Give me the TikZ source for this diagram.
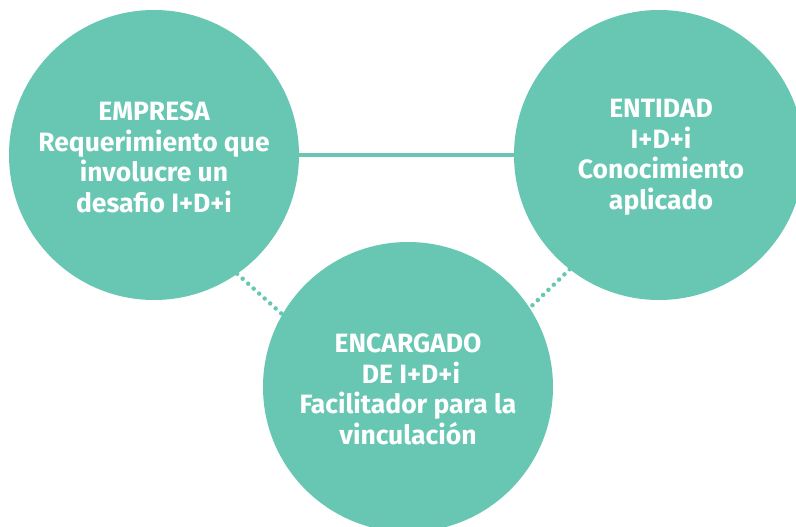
\documentclass[tikz,border=0pt]{standalone}
\usepackage{fontspec}
\setmainfont{Fira Sans}
\definecolor{tealc}{RGB}{104,199,179}
\begin{document}
\begin{tikzpicture}[x=1pt,y=-1pt,
  circ/.style={circle,fill=tealc,draw=none,minimum size=290pt,inner sep=0pt,outer sep=0pt},
  txt/.style={text=white,align=center,inner sep=0pt,font=\fontsize{26.5}{30.5}\selectfont\bfseries},
  solidlink/.style={draw=tealc,line width=4pt},
  dotlink/.style={draw=tealc,line width=4.5pt,line cap=round,dash pattern=on 0pt off 7.4pt}]
\useasboundingbox (0,0) rectangle (796,527);
\clip (0,0) rectangle (796,527);
\node[circ] (emp) at (154,155) {};
\node[circ] (ent) at (659,155) {};
\node[circ] (enc) at (408,387) {};
\draw[solidlink] (emp.east) -- (ent.west);
\draw[dotlink] (emp.-55.6) -- (enc.150);
\draw[dotlink] (ent.-128) -- (enc.33);
\node[txt] (empt) at ([yshift=-2.5pt]emp.center) {EMPRESA\\Requerimiento que\\involucre un\\desafio I+D+i};
\node[txt] (entt) at ([xshift=2pt,yshift=-2.5pt]ent.center) {ENTIDAD\\I+D+i\\Conocimiento\\aplicado};
\node[txt] (enct) at ([yshift=-2.5pt]enc.center) {ENCARGADO\\\hspace*{6pt}DE I+D+i\\Facilitador para la\\vinculación};
\end{tikzpicture}
\end{document}
